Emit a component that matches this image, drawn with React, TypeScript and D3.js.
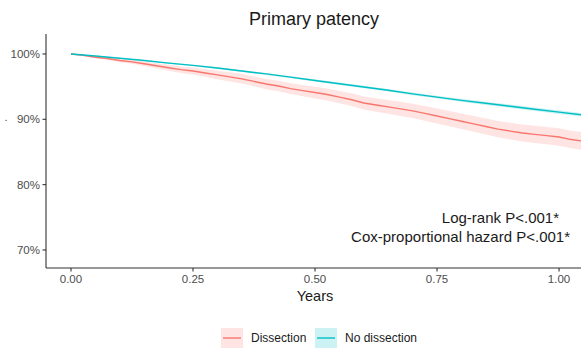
import React from "react";
import * as d3 from "d3";

const title = "Primary patency";
const xLabel = "Years";
const yLabel = ".";
const xTicks = [0, 0.25, 0.5, 0.75, 1.0];
const yTicks = [0.7, 0.8, 0.9, 1.0];
const annotations = ["Log-rank P<.001*", "Cox-proportional hazard P<.001*"];
const groups = ["Dissection", "No dissection"];
const colors = ["#F8766D", "#00BFC4"];

const dissTime = [0, 0.025, 0.05, 0.075, 0.1, 0.125, 0.15, 0.175, 0.2, 0.225, 0.25, 0.275, 0.3, 0.325, 0.35, 0.375, 0.4, 0.425, 0.45, 0.475, 0.5, 0.525, 0.55, 0.575, 0.6, 0.625, 0.65, 0.675, 0.7, 0.725, 0.75, 0.775, 0.8, 0.825, 0.85, 0.875, 0.9, 0.925, 0.95, 0.975, 1.0, 1.025, 1.045];
const dissSurv = [100, 99.8, 99.5, 99.3, 99.0, 98.8, 98.5, 98.2, 97.9, 97.6, 97.4, 97.1, 96.8, 96.5, 96.2, 95.8, 95.4, 95.1, 94.7, 94.4, 94.1, 93.8, 93.4, 93.0, 92.5, 92.2, 91.9, 91.6, 91.3, 90.9, 90.5, 90.1, 89.7, 89.3, 88.9, 88.5, 88.2, 87.9, 87.7, 87.5, 87.3, 86.9, 86.7];
const dissLower = [100, 99.7, 99.35, 99.1, 98.75, 98.5, 98.15, 97.8, 97.45, 97.1, 96.85, 96.5, 96.15, 95.8, 95.48, 95.05, 94.62, 94.3, 93.87, 93.54, 93.2, 92.88, 92.45, 92.02, 91.5, 91.17, 90.85, 90.52, 90.2, 89.78, 89.35, 88.93, 88.5, 88.08, 87.66, 87.24, 86.92, 86.6, 86.39, 86.18, 85.97, 85.56, 85.35];
const dissUpper = [100, 99.9, 99.65, 99.5, 99.25, 99.1, 98.85, 98.6, 98.35, 98.1, 97.95, 97.7, 97.45, 97.2, 96.92, 96.55, 96.18, 95.9, 95.53, 95.26, 95.0, 94.72, 94.35, 93.98, 93.5, 93.23, 92.95, 92.68, 92.4, 92.02, 91.65, 91.27, 90.9, 90.52, 90.14, 89.76, 89.48, 89.2, 89.01, 88.82, 88.63, 88.24, 88.05];

const noTime = [0, 0.05, 0.1, 0.15, 0.2, 0.25, 0.3, 0.35, 0.4, 0.45, 0.5, 0.55, 0.6, 0.65, 0.7, 0.75, 0.8, 0.85, 0.9, 0.95, 1.0, 1.045];
const noSurv = [100, 99.7, 99.35, 99.0, 98.6, 98.25, 97.85, 97.4, 96.95, 96.45, 95.95, 95.45, 94.95, 94.45, 93.9, 93.4, 92.9, 92.45, 92.0, 91.55, 91.1, 90.7];
const noLower = [100, 99.65, 99.28, 98.91, 98.5, 98.13, 97.72, 97.26, 96.8, 96.29, 95.78, 95.27, 94.76, 94.25, 93.69, 93.18, 92.67, 92.21, 91.75, 91.29, 90.83, 90.42];
const noUpper = [100, 99.75, 99.42, 99.09, 98.7, 98.37, 97.98, 97.54, 97.1, 96.61, 96.12, 95.63, 95.14, 94.65, 94.11, 93.62, 93.13, 92.69, 92.25, 91.81, 91.37, 90.98];

const W = 581;
const H = 348;
const left = 46;
const right = 581;
const top = 34;
const bottom = 268;

export default function App() {
  const x = d3.scaleLinear().domain([-0.0512, 1.045]).range([left, right]);
  const y = d3.scaleLinear().domain([0.6724, 1.0306]).range([bottom, top]);

  const mk = (t: number[], s: number[]) => t.map((tt, i) => ({ t: tt, v: s[i] / 100 }));
  const series = [
    { line: mk(dissTime, dissSurv), lo: mk(dissTime, dissLower), hi: mk(dissTime, dissUpper) },
    { line: mk(noTime, noSurv), lo: mk(noTime, noLower), hi: mk(noTime, noUpper) },
  ];

  const font = "'Liberation Sans', Arial, Helvetica, sans-serif";

  return (
    <svg width={W} height={H} style={{ position: "absolute", left: 0, top: 0 }} fontFamily={font}>
      <defs>
        <clipPath id="panel">
          <rect x={left} y={top} width={right - left} height={bottom - top} />
        </clipPath>
      </defs>
      <rect width={W} height={H} fill="#fff" />
      <g clipPath="url(#panel)">
        {series.map((s, i) => {
          const area = d3
            .area<{ t: number; v: number }>()
            .x((d) => x(d.t))
            .y0((d, j) => y(s.lo[j].v))
            .y1((d, j) => y(s.hi[j].v));
          return <path key={"a" + i} d={area(s.line) || ""} fill={colors[i]} fillOpacity={0.2} stroke="none" />;
        })}
        {series.map((s, i) => {
          const line = d3
            .line<{ t: number; v: number }>()
            .x((d) => x(d.t))
            .y((d) => y(d.v));
          return <path key={"l" + i} d={line(s.line) || ""} fill="none" stroke={colors[i]} strokeWidth={1.4} />;
        })}
      </g>
      <line x1={left} x2={left} y1={top} y2={bottom} stroke="#333" strokeWidth={1.1} />
      <line x1={left} x2={right} y1={bottom} y2={bottom} stroke="#333" strokeWidth={1.1} />
      {yTicks.map((v) => (
        <g key={"y" + v}>
          <line x1={left - 3.5} x2={left} y1={y(v)} y2={y(v)} stroke="#333" strokeWidth={1.1} />
          <text x={left - 6} y={y(v)} dy="0.35em" textAnchor="end" fontSize={11.5} fill="#4D4D4D">
            {d3.format(".0%")(v)}
          </text>
        </g>
      ))}
      {xTicks.map((v) => (
        <g key={"x" + v}>
          <line x1={x(v)} x2={x(v)} y1={bottom} y2={bottom + 3.5} stroke="#333" strokeWidth={1.1} />
          <text x={x(v)} y={bottom + 15} textAnchor="middle" fontSize={11.5} fill="#4D4D4D">
            {d3.format(".2f")(v)}
          </text>
        </g>
      ))}
      <text x={314} y={25} textAnchor="middle" fontSize={18} fill="#1a1a1a">
        {title}
      </text>
      <text x={x(0.5)} y={301} textAnchor="middle" fontSize={14.5} fill="#1a1a1a">
        {xLabel}
      </text>
      <text x={6} y={y(0.9) + 2} textAnchor="middle" fontSize={11} fill="#4D4D4D">
        {yLabel}
      </text>
      <text x={559} y={223} textAnchor="end" fontSize={15} fill="#1a1a1a">
        {annotations[0]}
      </text>
      <text x={570} y={242} textAnchor="end" fontSize={15} fill="#1a1a1a">
        {annotations[1]}
      </text>
      {groups.map((g, i) => {
        const kx = i === 0 ? 221 : 315;
        return (
          <g key={g}>
            <rect x={kx} y={328} width={22} height={20} fill={colors[i]} fillOpacity={0.2} />
            <line x1={kx + 2} x2={kx + 20} y1={338} y2={338} stroke={colors[i]} strokeWidth={1.4} />
            <text x={kx + 30} y={338} dy="0.35em" fontSize={12} fill="#1a1a1a">
              {g}
            </text>
          </g>
        );
      })}
    </svg>
  );
}
